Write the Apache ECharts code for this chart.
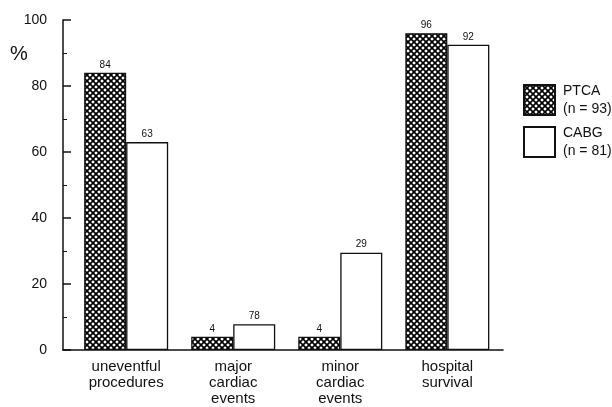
<!DOCTYPE html>
<html>
<head>
<meta charset="utf-8">
<script src="https://cdn.jsdelivr.net/npm/echarts@6/dist/echarts.min.js"></script>
<style>
  html, body { margin: 0; padding: 0; background: #fff; }
  #chart { width: 612px; height: 407px; }
</style>
</head>
<body>
<div id="chart"></div>
<script>
var categories = ["uneventful\nprocedures", "major\ncardiac\nevents", "minor\ncardiac\nevents", "hospital\nsurvival"];
var ptcaValues = [84, 4, 4, 96];
var cabgValues = [63, 7.8, 29.5, 92.5];
var ptcaLabels = ["84", "4", "4", "96"];
var cabgLabels = ["63", "78", "29", "92"];
var yTicks = [0, 20, 40, 60, 80, 100];
var legendText = { PTCA: "PTCA\n(n = 93)", CABG: "CABG\n(n = 81)" };

// crosshatch fill for PTCA
function hatch() {
  var c = document.createElement("canvas");
  c.width = 6; c.height = 6;
  var g = c.getContext("2d");
  g.fillStyle = "#fff";
  g.fillRect(0, 0, 6, 6);
  g.strokeStyle = "#000";
  g.lineWidth = 1.7;
  g.beginPath();
  g.moveTo(-1, -1); g.lineTo(7, 7);
  g.moveTo(-1, 7); g.lineTo(7, -1);
  g.stroke();
  return c;
}
var hatchFill = { image: hatch(), repeat: "repeat" };
var font = "Liberation Sans, Arial, sans-serif";

// categories sit at index positions on the x axis
var idx = categories.map(function (c, i) { return i; });
var ptcaData = ptcaValues.map(function (v, i) { return [i, v]; });
var cabgData = cabgValues.map(function (v, i) { return [i, v]; });

var chart = echarts.init(document.getElementById("chart"));
chart.setOption({
  animation: false,
  grid: { left: 63, right: 109, top: 20, bottom: 55 },
  legend: {
    left: 518, top: 77, orient: "vertical", itemWidth: 31, itemHeight: 30, itemGap: 6,
    icon: "rect",
    data: ["PTCA", "CABG"],
    formatter: function (n) { return legendText[n]; },
    textStyle: { fontFamily: font, fontSize: 14, lineHeight: 18, color: "#111", padding: [0, 0, 0, 3] }
  },
  graphic: [
    {
      type: "text", left: 10, top: 44,
      style: { text: "%", font: "20px " + font, fill: "#111" }
    }
  ],
  xAxis: {
    type: "value", min: -0.59, max: 3.52,
    splitLine: { show: false },
    axisLine: { show: true, onZero: false, lineStyle: { color: "#111", width: 1.6 } },
    axisTick: { show: false },
    axisLabel: {
      customValues: idx,
      fontFamily: font, fontSize: 15, lineHeight: 16, color: "#111", margin: 9,
      formatter: function (v) { return categories[v] || ""; }
    }
  },
  yAxis: {
    type: "value", min: 0, max: 100, interval: 20,
    splitLine: { show: false },
    axisLine: { show: true, onZero: false, lineStyle: { color: "#111", width: 1.5 } },
    axisTick: { show: true, inside: true, length: 8, lineStyle: { color: "#111", width: 1.5 } },
    minorTick: { show: true, splitNumber: 2, length: 4, lineStyle: { color: "#111" } },
    axisLabel: {
      fontFamily: font, fontSize: 14, color: "#111", margin: 16,
      formatter: function (v) { return yTicks.indexOf(v) >= 0 ? String(v) : ""; }
    }
  },
  series: [
    {
      name: "PTCA", type: "bar", data: ptcaData, barWidth: 42, barGap: "0%",
      itemStyle: { color: hatchFill, borderColor: "#111", borderWidth: 1.3 },
      label: {
        show: true, position: "top", distance: 3, fontFamily: font, fontSize: 10, color: "#111",
        formatter: function (p) { return ptcaLabels[p.dataIndex]; }
      }
    },
    {
      name: "CABG", type: "bar", data: cabgData, barWidth: 42,
      itemStyle: { color: "#fff", borderColor: "#111", borderWidth: 1.3 },
      label: {
        show: true, position: "top", distance: 3, fontFamily: font, fontSize: 10, color: "#111",
        formatter: function (p) { return cabgLabels[p.dataIndex]; }
      }
    }
  ]
});
</script>
</body>
</html>
